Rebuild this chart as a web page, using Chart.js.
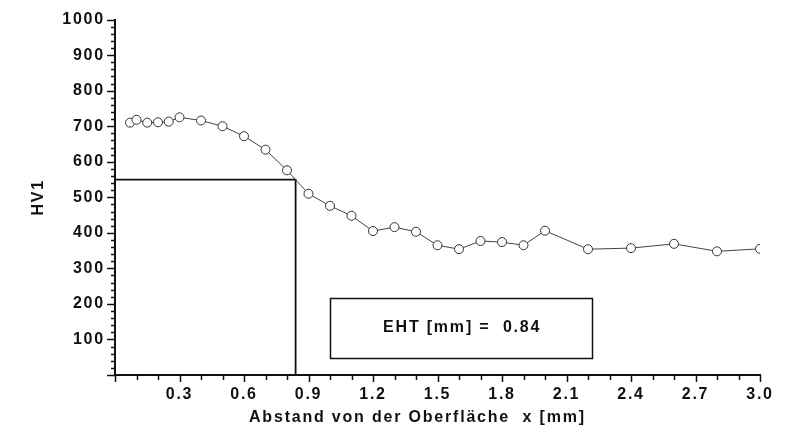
<!DOCTYPE html>
<html>
<head>
<meta charset="utf-8">
<script src="https://cdn.jsdelivr.net/npm/chart.js@4/dist/chart.umd.min.js"></script>
<style>
  html, body { margin: 0; padding: 0; background: #fff; }
  #wrap { width: 795px; height: 430px; position: relative; }
</style>
</head>
<body>
<div id="wrap"><canvas id="c"></canvas></div>
<script>
// Messpunkte
const abstand = [0.07, 0.10, 0.15, 0.20, 0.25, 0.30, 0.40, 0.50, 0.60, 0.70, 0.80, 0.90,
                 1.0, 1.1, 1.2, 1.3, 1.4, 1.5, 1.6, 1.7, 1.8, 1.9, 2.0, 2.2, 2.4, 2.6, 2.8, 3.0];
const hv1 = [710, 718, 710, 711, 713, 725, 716, 700, 672, 634, 576, 510,
             476, 448, 405, 416, 403, 365, 354, 377, 374, 365, 406, 354, 357, 369, 348, 355];

// Grenzhärte / EHT
const grenzHaerte = 550;
const eht = 0.84;
const ehtText = 'EHT [mm] =  0.84';
const boxX = [1.0, 2.22];
const boxY = [48, 216];

const xTitle = 'Abstand von der Oberfläche  x [mm]';
const yTitle = 'HV1';

const FONT = 'Arial, "Liberation Sans", sans-serif';
const INK = '#111';
const LS = '1.8px';

// Buchstabenabstand wie im Original
const spacing = {
  id: 'spacing',
  beforeLayout(chart) { chart.ctx.letterSpacing = LS; },
  beforeDraw(chart) { chart.ctx.letterSpacing = LS; },
};

// Haupt- und Nebenstriche, x-Titel, EHT-Kasten
const extras = {
  id: 'extras',
  afterDraw(chart) {
    const { ctx, scales: { x, y } } = chart;
    ctx.save();
    ctx.strokeStyle = INK;
    ctx.lineWidth = 1.5;
    ctx.beginPath();
    for (let v = 0; v <= 1000; v += 20) {
      const py = Math.round(y.getPixelForValue(v)) + 0.5;
      const len = v % 100 === 0 ? 8 : 4;
      ctx.moveTo(x.left - len, py);
      ctx.lineTo(x.left, py);
    }
    for (let i = 0; i <= 30; i++) {
      const px = Math.round(x.getPixelForValue(i / 10)) + 0.5;
      const len = i % 3 === 0 ? 7 : 5;
      ctx.moveTo(px, y.bottom);
      ctx.lineTo(px, y.bottom + len);
    }
    ctx.stroke();

    ctx.fillStyle = INK;
    ctx.font = 'bold 16px ' + FONT;
    ctx.letterSpacing = LS;
    ctx.textBaseline = 'middle';

    // x-Achsentitel (im Original etwas links der Mitte)
    ctx.textAlign = 'left';
    ctx.fillText(xTitle, x.left + 134, 418);

    // Kasten
    const x0 = x.getPixelForValue(boxX[0]), x1 = x.getPixelForValue(boxX[1]);
    const y0 = y.getPixelForValue(boxY[1]), y1 = y.getPixelForValue(boxY[0]);
    ctx.lineWidth = 1.5;
    ctx.strokeRect(Math.round(x0) + 0.5, Math.round(y0) + 0.5, Math.round(x1 - x0), Math.round(y1 - y0));
    ctx.textAlign = 'center';
    ctx.fillText(ehtText, (x0 + x1) / 2 + 1, (y0 + y1) / 2);
    ctx.restore();
  },
};

Chart.defaults.font.family = FONT;
Chart.defaults.color = INK;

new Chart(document.getElementById('c'), {
  type: 'line',
  data: {
    datasets: [
      {
        data: abstand.map((v, i) => ({ x: v, y: hv1[i] })),
        borderColor: '#444',
        borderWidth: 1,
        pointRadius: 4.5,
        pointBorderWidth: 1,
        pointBorderColor: '#333',
        pointBackgroundColor: '#fff',
        tension: 0,
      },
      {
        data: [{ x: 0, y: grenzHaerte }, { x: eht, y: grenzHaerte }, { x: eht, y: 0 }],
        borderColor: INK,
        borderWidth: 1.8,
        pointRadius: 0,
        tension: 0,
      },
    ],
  },
  options: {
    responsive: true,
    maintainAspectRatio: false,
    animation: false,
    layout: { autoPadding: false, padding: { left: 0, right: 35, top: 19, bottom: 0 } },
    plugins: { legend: { display: false }, tooltip: { enabled: false } },
    scales: {
      x: {
        type: 'linear',
        min: 0, max: 3.0,
        afterFit: (s) => { s.height = 55; },
        grid: { display: false, drawTicks: false },
        border: { display: true, color: INK, width: 2 },
        ticks: {
          stepSize: 0.3, padding: 10, autoSkip: false, maxRotation: 0,
          font: { size: 16, weight: 'bold' },
          callback: (v) => (Math.abs(v) < 1e-9 ? '' : v.toFixed(1)),
        },
      },
      y: {
        min: 0, max: 1000,
        afterFit: (s) => { s.width = 115; },
        grid: { display: false, drawTicks: false },
        border: { display: true, color: INK, width: 2 },
        ticks: {
          stepSize: 100, padding: 10, autoSkip: false,
          font: { size: 16, weight: 'bold' },
          callback: (v) => (v === 0 ? '' : v),
        },
        title: {
          display: true, text: yTitle,
          font: { size: 16, weight: 'bold' },
          padding: { top: 29, bottom: 0 },
        },
      },
    },
  },
  plugins: [spacing, extras],
});
</script>
</body>
</html>
